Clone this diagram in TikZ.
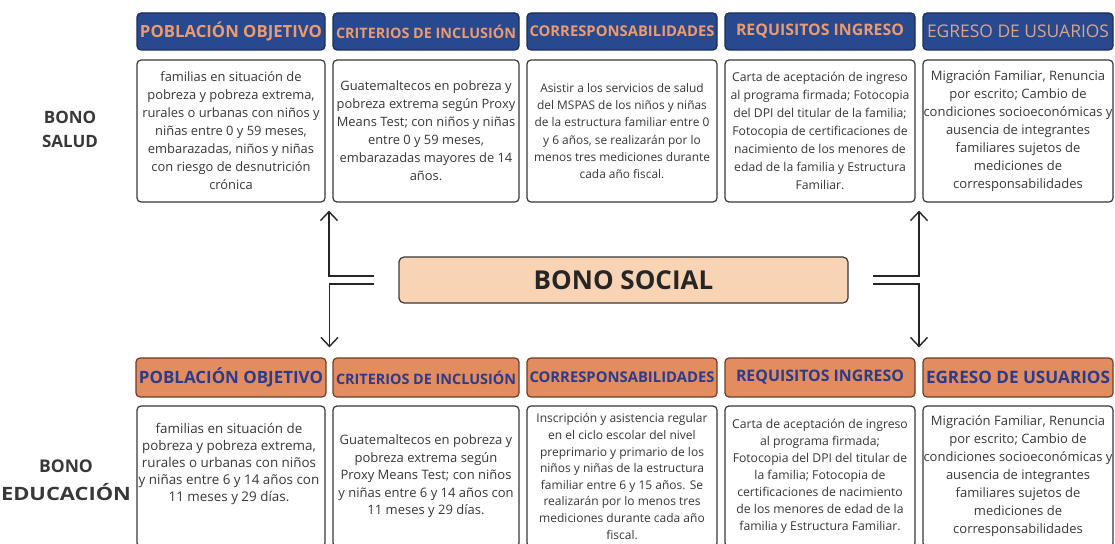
\documentclass[tikz,border=0pt]{standalone}
\usepackage{fontspec}
\setmainfont{Open Sans}
\usetikzlibrary{arrows.meta,calc}
\definecolor{navy}{HTML}{28498D}
\definecolor{navyline}{HTML}{1B2C58}
\definecolor{orangetxt}{HTML}{EC9A6E}
\definecolor{paletxt}{HTML}{D9A58C}
\definecolor{orangefill}{HTML}{E38C60}
\definecolor{orangeline}{HTML}{6A3E2A}
\definecolor{bluetxt}{HTML}{2B3C8A}
\definecolor{peach}{HTML}{F9D4B4}
\definecolor{ink}{HTML}{383838}
\begin{document}
\begin{tikzpicture}[x=1pt,y=-1pt,
  hdrtop/.style={draw=navyline, fill=navy, rounded corners=4pt, line width=1.2pt,
    minimum height=37pt, inner sep=0pt, text=orangetxt},
  hdrbot/.style={draw=orangeline, fill=orangefill, rounded corners=4pt, line width=1.2pt,
    minimum height=39pt, inner sep=0pt, text=bluetxt},
  bodybox/.style={draw=ink, fill=white, rounded corners=4pt, line width=1.2pt, inner sep=0pt},
  txt/.style={align=center, text=ink, inner sep=0pt},
  toprow/.style={bodybox, minimum height=142pt},
  botrow/.style={bodybox, minimum height=141pt},
  side/.style={align=center, text=ink},
  conn/.style={draw=black!85, line width=1.4pt},
  tip/.style={-{Straight Barb[length=9pt,width=17pt]}}]
\useasboundingbox (0,0) rectangle (1115,543);

% side labels
\node[side, font=\bfseries\fontsize{17}{24}\selectfont] (salud) at (70,129) {BONO\\SALUD};
\node[side, font=\bfseries\fontsize{17.5}{28}\selectfont] (educ) at (66,480) {BONO\\\scalebox{1.25}[1.05]{EDUCACIÓN}};

% top headers
\node[hdrtop, minimum width=188pt] (th1) at (231,31.5) {\resizebox{182pt}{!}{\bfseries POBLACIÓN OBJETIVO}};
\node[hdrtop, minimum width=186pt] (th2) at (426,31.5) {\resizebox{180pt}{!}{\bfseries CRITERIOS DE INCLUSIÓN}};
\node[hdrtop, minimum width=190pt] (th3) at (622,31.5) {\resizebox{185pt}{!}{\bfseries CORRESPONSABILIDADES}};
\node[hdrtop, minimum width=190pt] (th4) at (820,31.5) {\resizebox{168pt}{!}{\bfseries REQUISITOS INGRESO}};
\node[hdrtop, minimum width=190pt, text=paletxt] (th5) at (1018,31.5) {\resizebox{182pt}{!}{EGRESO DE USUARIOS}};

% top boxes
\node[toprow, minimum width=188pt, label={[txt, name=tt1, font=\fontsize{12.9}{18}\selectfont]center:{familias en situación de\\ pobreza y pobreza extrema,\\ rurales o urbanas con niños y\\ niñas entre 0 y 59 meses,\\ embarazadas, niños y niñas\\ con riesgo de desnutrición\\ crónica}}] (tb1) at (231,131) {};
\node[toprow, minimum width=186pt, label={[txt, name=tt2, font=\fontsize{12.9}{18}\selectfont]center:{Guatemaltecos en pobreza y\\ pobreza extrema según Proxy\\ Means Test; con niños y niñas\\ entre 0 y 59 meses,\\ embarazadas mayores de 14\\ años.}}] (tb2) at (426,131) {};
\node[toprow, minimum width=190pt, label={[txt, name=tt3, font=\fontsize{11.9}{17.2}\selectfont]center:{Asistir a los servicios de salud\\ del MSPAS de los niños y niñas\\ de la estructura familiar entre 0\\ y 6 años, se realizarán por lo\\ menos tres mediciones durante\\ cada año fiscal.}}] (tb3) at (622,131) {};
\node[toprow, minimum width=190pt, label={[txt, name=tt4, font=\fontsize{12.2}{18}\selectfont]center:{Carta de aceptación de ingreso\\ al programa firmada; Fotocopia\\ del DPI del titular de la familia;\\ Fotocopia de certificaciones de\\ nacimiento de los menores de\\ edad de la familia y Estructura\\ Familiar.}}] (tb4) at (820,131) {};
\node[toprow, minimum width=190pt, label={[txt, name=tt5, font=\fontsize{13}{18}\selectfont]center:{Migración Familiar, Renuncia\\ por escrito; Cambio de\\ condiciones socioeconómicas y\\ ausencia de integrantes\\ familiares sujetos de\\ mediciones de\\ corresponsabilidades}}] (tb5) at (1018,131) {};

% central node
\node[draw=ink, fill=peach, rounded corners=5pt, line width=1.2pt, minimum width=449pt,
  minimum height=46pt, inner sep=0pt, text=black!85,
  font=\bfseries\fontsize{26}{30}\selectfont] (social) at (623.5,280) {BONO SOCIAL};

% bottom headers
\node[hdrbot, minimum width=190pt] (bh1) at (231,377.5) {\resizebox{184pt}{!}{\bfseries POBLACIÓN OBJETIVO}};
\node[hdrbot, minimum width=186pt] (bh2) at (426,377.5) {\resizebox{180pt}{!}{\bfseries CRITERIOS DE INCLUSIÓN}};
\node[hdrbot, minimum width=190pt] (bh3) at (622,377.5) {\resizebox{185pt}{!}{\bfseries CORRESPONSABILIDADES}};
\node[hdrbot, minimum width=190pt] (bh4) at (820,377.5) {\resizebox{168pt}{!}{\bfseries REQUISITOS INGRESO}};
\node[hdrbot, minimum width=190pt] (bh5) at (1018,377.5) {\resizebox{184pt}{!}{\bfseries EGRESO DE USUARIOS}};

% bottom boxes
\node[botrow, minimum width=188pt] (bb1) at (231,476.5) {};
\node[txt, font=\fontsize{13.4}{17}\selectfont] (bt1) at (229,464) {familias en situación de\\ pobreza y pobreza extrema,\\ rurales o urbanas con niños\\ y niñas entre 6 y 14 años con\\ 11 meses y 29 días.};
\node[botrow, minimum width=186pt, label={[txt, name=bt2, font=\fontsize{13}{17.5}\selectfont]center:{Guatemaltecos en pobreza y\\ pobreza extrema según\\ Proxy Means Test; con niños\\ y niñas entre 6 y 14 años con\\ 11 meses y 29 días.}}] (bb2) at (426,476.5) {};
\node[botrow, minimum width=190pt, label={[txt, name=bt3, font=\fontsize{12}{16.6}\selectfont]center:{Inscripción y asistencia regular\\ en el ciclo escolar del nivel\\ preprimario y primario de los\\ niños y niñas de la estructura\\ familiar entre 6 y 15 años. Se\\ realizarán por lo menos tres\\ mediciones durante cada año\\ fiscal.}}] (bb3) at (622,476.5) {};
\node[botrow, minimum width=190pt, label={[txt, name=bt4, font=\fontsize{12.2}{17}\selectfont]center:{Carta de aceptación de ingreso\\ al programa firmada;\\ Fotocopia del DPI del titular de\\ la familia; Fotocopia de\\ certificaciones de nacimiento\\ de los menores de edad de la\\ familia y Estructura Familiar.}}] (bb4) at (820,476.5) {};
\node[botrow, minimum width=190pt, label={[txt, name=bt5, font=\fontsize{13}{18}\selectfont]center:{Migración Familiar, Renuncia\\ por escrito; Cambio de\\ condiciones socioeconómicas y\\ ausencia de integrantes\\ familiares sujetos de\\ mediciones de\\ corresponsabilidades}}] (bb5) at (1018,476.5) {};

% connector end points
\coordinate (lt) at ($(tb1.south east)!0.5!(tb2.south west)+(0,8)$);
\coordinate (lb) at ($(bh1.north east)!0.5!(bh2.north west)+(0,-10)$);
\coordinate (rt) at ($(tb4.south east)!0.5!(tb5.south west)+(0,8)$);
\coordinate (rb) at ($(bh4.north east)!0.5!(bh5.north west)+(0,-10)$);

\draw[conn, tip] ($(social.west)+(-24,-4)$) -| (lt);
\draw[conn, tip] ($(social.west)+(-24,4)$) -| (lb);
\draw[conn, tip] ($(social.east)+(24,-4)$) -| (rt);
\draw[conn, tip] ($(social.east)+(24,4)$) -| (rb);
\end{tikzpicture}
\end{document}
